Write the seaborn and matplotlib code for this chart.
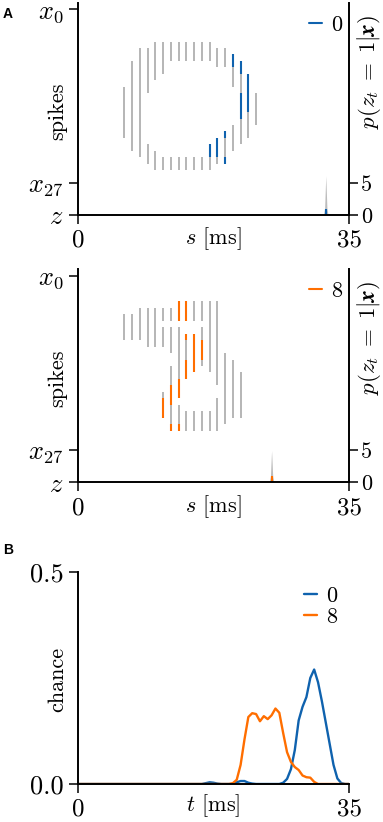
import matplotlib
matplotlib.use('Agg')
import matplotlib.pyplot as plt
from matplotlib.lines import Line2D
import numpy as np
import pandas as pd
import seaborn as sns

# spike raster runs: (time [ms], first neuron, last neuron), neurons x0..x27
digit0_runs = [(6, 12, 19), (7, 8, 21), (8, 6, 22),
               (9, 6, 12), (9, 21, 23), (10, 5, 10), (10, 22, 24),
               (11, 5, 9), (11, 23, 24), (12, 5, 7), (12, 23, 24),
               (13, 5, 7), (13, 23, 24), (14, 5, 7), (14, 23, 24),
               (15, 5, 7), (15, 23, 24), (16, 5, 7), (16, 23, 24),
               (17, 5, 7), (17, 21, 24), (18, 6, 8), (18, 20, 23),
               (19, 6, 8), (19, 19, 23), (20, 7, 11), (20, 18, 21),
               (21, 8, 20), (22, 10, 19), (23, 13, 17)]
digit0_hits = [(17, 21, 22), (18, 20, 22), (19, 19, 19), (19, 23, 23),
               (20, 7, 8), (21, 8, 9), (21, 13, 16), (22, 10, 15)]

digit8_runs = [(6, 6, 9), (7, 6, 9), (8, 5, 9), (9, 5, 10), (10, 5, 10),
               (11, 5, 6), (11, 8, 10), (11, 18, 21),
               (12, 5, 6), (12, 8, 11), (12, 14, 23),
               (13, 4, 6), (13, 8, 18), (13, 20, 23),
               (14, 4, 6), (14, 9, 15), (14, 21, 23),
               (15, 4, 6), (15, 9, 14), (15, 21, 23),
               (16, 4, 6), (16, 8, 13), (16, 21, 23),
               (17, 4, 14), (17, 21, 23), (18, 4, 16), (18, 19, 23),
               (19, 12, 22), (20, 13, 21), (21, 15, 21)]
digit8_hits = [(11, 19, 21), (12, 17, 19), (12, 23, 23), (13, 4, 6),
               (13, 16, 18), (13, 23, 23), (14, 4, 6), (14, 9, 9),
               (14, 13, 15), (15, 9, 14), (16, 10, 12)]

# output neuron z: spike time and p(z_t=1|x)
z_spike0 = 32
z_spike8 = 25
p_t0 = [31.7, 31.85, 32.0, 32.15, 32.3]
p_val0 = [0, 1.0, 6.1, 1.0, 0]
p_t8 = [24.7, 24.85, 25.0, 25.15, 25.3]
p_val8 = [0, 0.9, 4.9, 0.9, 0]

# panel B: chance over time, 0.5 ms steps from 0 to 35 ms
t_ms = [i * 0.5 for i in range(71)]
chance_0 = [0, 0, 0, 0, 0, 0, 0, 0, 0, 0,
            0, 0, 0, 0, 0, 0, 0, 0, 0, 0,
            0, 0, 0, 0, 0, 0, 0, 0, 0, 0,
            0, 0, 0, 0.002, 0.004, 0.003, 0.001, 0, 0, 0,
            0, 0.004, 0.007, 0.007, 0.003, 0.001, 0, 0, 0, 0,
            0, 0, 0, 0.003, 0.012, 0.035, 0.08, 0.15, 0.182, 0.205,
            0.25, 0.27, 0.24, 0.195, 0.145, 0.095, 0.045, 0.013, 0.002, 0,
            0]
chance_8 = [0, 0, 0, 0, 0, 0, 0, 0, 0, 0,
            0, 0, 0, 0, 0, 0, 0, 0, 0, 0,
            0, 0, 0, 0, 0, 0, 0, 0, 0, 0,
            0, 0, 0, 0, 0, 0, 0, 0, 0, 0,
            0.002, 0.01, 0.045, 0.105, 0.158, 0.167, 0.165, 0.148, 0.16, 0.153,
            0.162, 0.178, 0.168, 0.12, 0.075, 0.052, 0.04, 0.033, 0.02, 0.016,
            0.015, 0.005, 0, 0, 0, 0, 0, 0, 0, 0,
            0]

blue = '#0f62ae'
orange = '#ff6e00'
grey = '#a9a9a9'

sns.set_style('ticks')
plt.rcParams['font.family'] = 'serif'
plt.rcParams['font.serif'] = ['cmr10']
plt.rcParams['mathtext.fontset'] = 'cm'
plt.rcParams['axes.unicode_minus'] = False
plt.rcParams['font.size'] = 16
for k in ['axes.edgecolor', 'text.color', 'axes.labelcolor', 'xtick.color', 'ytick.color']:
    plt.rcParams[k] = 'black'

fig = plt.figure(figsize=(3.83, 8.22), dpi=100)
left, width = 78 / 383, 271 / 383
N_TOP = 32  # y position of neuron x0


def raster_panel(rect, runs, hits, z_t, p_t, p_val, color, label):
    ax = fig.add_axes(rect)
    for rr, c, lw in ((runs, grey, 1.2), (hits, color, 1.5)):
        ax.vlines([r[0] for r in rr], [N_TOP - 1 - r[2] for r in rr],
                  [N_TOP - r[1] for r in rr], colors=c, lw=lw)
    ax.fill_between(p_t, 0, p_val, color='#bcbcbc', lw=0)
    ax.vlines([z_t], 0, 1, colors=color, lw=1.5)
    ax.set_xlim(0, 35)
    ax.set_ylim(0, 33)
    ax.set_xticks([0, 35])
    ax.set_xticklabels(['0', '35'], fontsize=18)
    ax.set_yticks([0, 5, 32])
    ax.set_yticklabels(['$z$', '$x_{27}$', '$x_0$'], fontsize=19)
    ax.tick_params(length=6.5, width=1.1, pad=4)
    ax.set_xlabel('$s$ [ms]')
    ax.xaxis.set_label_coords(0.5, -0.05)
    ax.set_ylabel('spikes')
    ax.yaxis.set_label_coords(-0.04, 0.49)
    for s in ['top', 'right']:
        ax.spines[s].set_visible(False)
    for s in ax.spines.values():
        s.set_linewidth(1.4)
    ax2 = ax.twinx()
    ax2.set_ylim(0, 33)
    ax2.set_yticks([0, 5])
    ax2.set_yticklabels(['0', '5'])
    ax2.tick_params(length=6.5, width=1.1, pad=2)
    for s in ['top', 'left', 'bottom']:
        ax2.spines[s].set_visible(False)
    ax2.spines['right'].set_linewidth(1.4)
    ax2.set_ylabel(r'$p(z_t\;=\;1|\boldsymbol{x})$', fontsize=16.5)
    ax2.yaxis.set_label_coords(1.022, 0.675)
    ax.legend([Line2D([], [], color=color, lw=1.5)], [label], loc='center right',
              bbox_to_anchor=(0.975, 0.895), frameon=False, handlelength=0.6,
              handletextpad=0.4, borderpad=0, borderaxespad=0)
    return ax


raster_panel([left, 1 - 215 / 822, width, 212 / 822], digit0_runs, digit0_hits,
             z_spike0, p_t0, p_val0, blue, '0')
raster_panel([left, 1 - 482.3 / 822, width, 213.2 / 822], digit8_runs, digit8_hits,
             z_spike8, p_t8, p_val8, orange, '8')

# panel B
df = pd.DataFrame({'t': t_ms * 2, 'chance': chance_0 + chance_8,
                   'digit': ['0'] * len(t_ms) + ['8'] * len(t_ms)})
axb = fig.add_axes([left, 1 - 784 / 822, width, 212 / 822])
sns.lineplot(data=df, x='t', y='chance', hue='digit', hue_order=['0', '8'],
             palette=[blue, orange], lw=1.7, legend=False, ax=axb)
axb.set_xlim(0, 35)
axb.set_ylim(0, 0.5)
axb.set_xticks([0, 35])
axb.set_xticklabels(['0', '35'], fontsize=18)
axb.set_yticks([0, 0.5])
axb.set_yticklabels(['0.0', '0.5'], fontsize=19)
axb.tick_params(length=6.5, width=1.1, pad=4)
axb.set_xlabel('$t$ [ms]')
axb.xaxis.set_label_coords(0.5, -0.04)
axb.set_ylabel('chance')
axb.yaxis.set_label_coords(-0.04, 0.495)
for s in ['top', 'right']:
    axb.spines[s].set_visible(False)
for s in axb.spines.values():
    s.set_linewidth(1.4)
axb.legend([Line2D([], [], color=blue, lw=1.7), Line2D([], [], color=orange, lw=1.7)],
           ['0', '8'], loc='center right', bbox_to_anchor=(0.956, 0.837), frameon=False,
           handlelength=0.6, handletextpad=0.4, borderpad=0, borderaxespad=0,
           labelspacing=0.05)

fig.text(0.008, 0.992, 'A', fontsize=10, fontweight='bold', family='Liberation Sans', va='top')
fig.text(0.008, 0.34, 'B', fontsize=10, fontweight='bold', family='Liberation Sans', va='top')

fig.savefig('out.png', dpi=100)
